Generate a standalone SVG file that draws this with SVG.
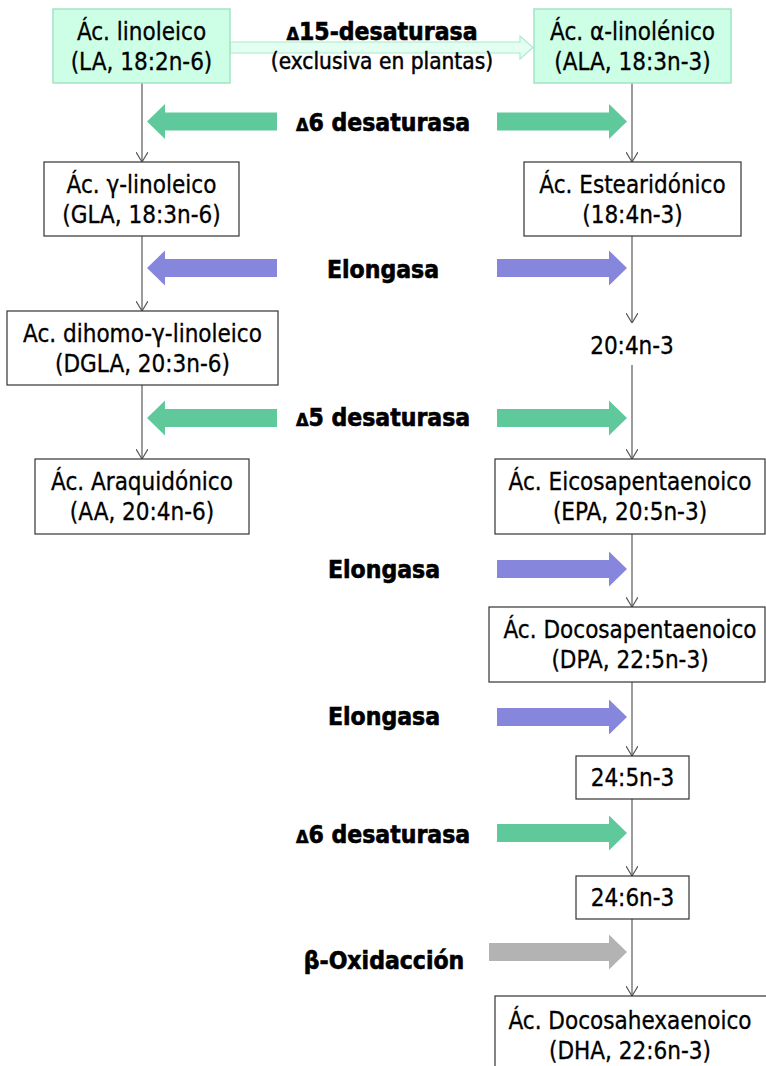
<svg xmlns="http://www.w3.org/2000/svg" width="766" height="1066" viewBox="0 0 766 1066">
<style>
.box{fill:#ffffff;stroke:#333333;stroke-width:1.2}
.mint{fill:#ccffe6;stroke:#a3e4c6;stroke-width:1.5}
.t{font-family:"DejaVu Sans Condensed","DejaVu Sans",sans-serif;font-stretch:condensed;font-size:24px;fill:#000;stroke:#000;stroke-width:0.3;text-anchor:middle}
.s{font-family:"DejaVu Sans Condensed","DejaVu Sans",sans-serif;font-stretch:condensed;font-size:22.5px;fill:#000;stroke:#000;stroke-width:0.45;text-anchor:middle}
.b{font-family:"DejaVu Sans Condensed","DejaVu Sans",sans-serif;font-stretch:condensed;font-weight:bold;font-size:24.5px;fill:#000;stroke:#000;stroke-width:0.6;text-anchor:middle}
.d{font-size:18px}
.g{fill:#5fc99c}
.p{fill:#8686dd}
.gr{fill:#b3b3b3}
.ln{stroke:#595959;stroke-width:1.2;fill:none}
</style>
<defs>
<marker id="v" viewBox="0 0 10 12" refX="10" refY="6" markerWidth="10" markerHeight="12" markerUnits="userSpaceOnUse" orient="auto">
<path d="M0,0 L10,6 L0,12" fill="none" stroke="#595959" stroke-width="1.2"/>
</marker>
</defs>
<rect width="766" height="1066" fill="#ffffff"/>

<g id="connectors">
<path class="ln" marker-end="url(#v)" d="M142,83 V162"/>
<path class="ln" marker-end="url(#v)" d="M142,236 V311"/>
<path class="ln" marker-end="url(#v)" d="M142,385 V459"/>
<path class="ln" marker-end="url(#v)" d="M632,83 V162"/>
<path class="ln" marker-end="url(#v)" d="M632,236 V323"/>
<path class="ln" marker-end="url(#v)" d="M632,365 V459"/>
<path class="ln" marker-end="url(#v)" d="M632,534 V607"/>
<path class="ln" marker-end="url(#v)" d="M632,682 V756"/>
<path class="ln" marker-end="url(#v)" d="M632,799 V876"/>
<path class="ln" marker-end="url(#v)" d="M632,919 V996"/>
</g>

<g id="enzyme-d15">
<path d="M230,42 H520 V36 L533,47.5 L520,59 V53 H230 Z" fill="#e3fff1" stroke="#ade9cc" stroke-width="1.2"/>
<text class="b" x="382" y="40"><tspan class="d">Δ</tspan>15-desaturasa</text>
<text class="s" x="382" y="69">(exclusiva en plantas)</text>
</g>

<g id="enzyme-d6-1">
<path class="g" d="M277,112.5 H165 V104 L147,121.5 L165,139 V130.5 H277 Z"/>
<path class="g" d="M497,112.5 H609 V104 L627,121.5 L609,139 V130.5 H497 Z"/>
<text class="b" x="383" y="131"><tspan class="d">Δ</tspan>6 desaturasa</text>
</g>

<g id="enzyme-elong-1">
<path class="p" d="M277,259 H165 V250.5 L147,268 L165,285.5 V277 H277 Z"/>
<path class="p" d="M497,259 H609 V250.5 L627,268 L609,285.5 V277 H497 Z"/>
<text class="b" x="383" y="278">Elongasa</text>
</g>

<g id="enzyme-d5">
<path class="g" d="M277,409 H165 V400.5 L147,418 L165,435.5 V427 H277 Z"/>
<path class="g" d="M497,409 H609 V400.5 L627,418 L609,435.5 V427 H497 Z"/>
<text class="b" x="383" y="426"><tspan class="d">Δ</tspan>5 desaturasa</text>
</g>

<g id="enzyme-elong-2">
<path class="p" d="M497,560 H609 V551.5 L627,569 L609,586.5 V578 H497 Z"/>
<text class="b" x="384" y="578">Elongasa</text>
</g>

<g id="enzyme-elong-3">
<path class="p" d="M497,708 H609 V699.5 L627,717 L609,734.5 V726 H497 Z"/>
<text class="b" x="384" y="725">Elongasa</text>
</g>

<g id="enzyme-d6-2">
<path class="g" d="M497,824 H609 V815.5 L627,833 L609,850.5 V842 H497 Z"/>
<text class="b" x="383" y="843"><tspan class="d">Δ</tspan>6 desaturasa</text>
</g>

<g id="enzyme-box">
<path class="gr" d="M489,943 H609 V934.5 L627,952 L609,969.5 V961 H489 Z"/>
<text class="b" x="384" y="969">β-Oxidacción</text>
</g>

<g id="LA">
<rect class="mint" x="53" y="9" width="177" height="74"/>
<text class="t" x="141.5" y="40">Ác. linoleico</text>
<text class="t" x="141.5" y="70">(LA, 18:2n-6)</text>
</g>

<g id="ALA">
<rect class="mint" x="534" y="9" width="197" height="74"/>
<text class="t" x="632.5" y="40">Ác. α-linolénico</text>
<text class="t" x="632.5" y="70">(ALA, 18:3n-3)</text>
</g>

<g id="GLA">
<rect class="box" x="44" y="162" width="195" height="74"/>
<text class="t" x="141.5" y="193">Ác. γ-linoleico</text>
<text class="t" x="141.5" y="223">(GLA, 18:3n-6)</text>
</g>

<g id="SDA">
<rect class="box" x="524" y="162" width="217" height="74"/>
<text class="t" x="632.5" y="193">Ác. Estearidónico</text>
<text class="t" x="632.5" y="223">(18:4n-3)</text>
</g>

<g id="DGLA">
<rect class="box" x="7" y="311" width="271" height="74"/>
<text class="t" x="142.5" y="342">Ac. dihomo-γ-linoleico</text>
<text class="t" x="142.5" y="372">(DGLA, 20:3n-6)</text>
</g>

<g id="ETA">
<text class="t" x="632" y="354">20:4n-3</text>
</g>

<g id="AA">
<rect class="box" x="35" y="459" width="214" height="75"/>
<text class="t" x="142" y="490">Ác. Araquidónico</text>
<text class="t" x="142" y="520">(AA, 20:4n-6)</text>
</g>

<g id="EPA">
<rect class="box" x="495" y="459" width="270" height="75"/>
<text class="t" x="630" y="490">Ác. Eicosapentaenoico</text>
<text class="t" x="630" y="520">(EPA, 20:5n-3)</text>
</g>

<g id="DPA">
<rect class="box" x="489" y="607" width="276" height="75"/>
<text class="t" x="630" y="638">Ác. Docosapentaenoico</text>
<text class="t" x="630" y="668">(DPA, 22:5n-3)</text>
</g>

<g id="C24-5">
<rect class="box" x="576" y="756" width="113" height="43"/>
<text class="t" x="632.5" y="786">24:5n-3</text>
</g>

<g id="C24-6">
<rect class="box" x="576" y="876" width="113" height="43"/>
<text class="t" x="632.5" y="906">24:6n-3</text>
</g>

<g id="DHA">
<rect class="box" x="495" y="996" width="272" height="80"/>
<text class="t" x="630" y="1029">Ác. Docosahexaenoico</text>
<text class="t" x="630" y="1059">(DHA, 22:6n-3)</text>
</g>
</svg>
